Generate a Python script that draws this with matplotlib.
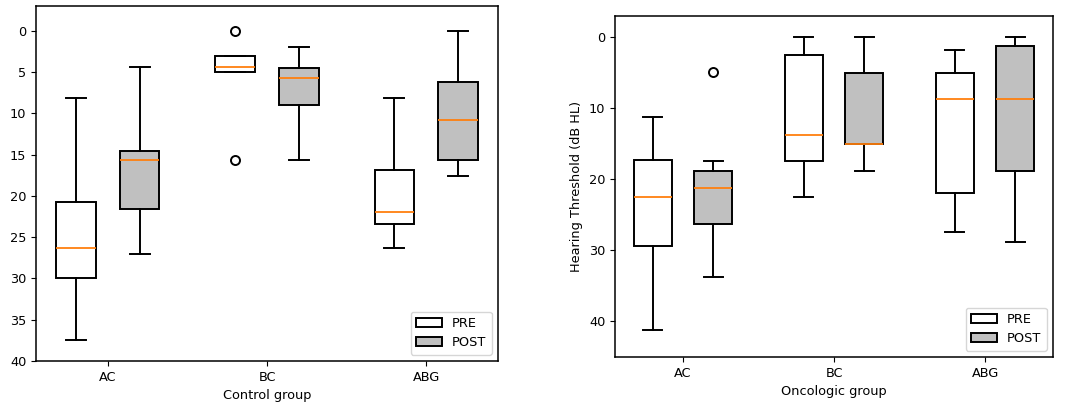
import matplotlib
matplotlib.use("Agg")
import matplotlib.pyplot as plt
from matplotlib.patches import Patch

plt.rcParams['font.family'] = ['DejaVu Sans']
plt.rcParams['font.size'] = 9.3
plt.rcParams['axes.linewidth'] = 1.1

categories = ["AC", "BC", "ABG"]

# Control group: (whislo, q1, med, q3, whishi, fliers)
control_pre = [
    (8.2, 20.7, 26.3, 30.0, 37.5, []),
    (3.1, 3.1, 4.4, 5.0, 5.0, [0.0, 15.6]),
    (8.2, 16.9, 21.9, 23.45, 26.3, []),
]
control_post = [
    (4.4, 14.55, 15.6, 21.6, 27.0, []),
    (2.0, 4.55, 5.7, 9.0, 15.6, []),
    (0.0, 6.15, 10.85, 15.7, 17.55, []),
]
# Oncologic group
onco_pre = [
    (11.2, 17.2, 22.5, 29.4, 41.2, []),
    (0.0, 2.5, 13.75, 17.45, 22.5, []),
    (1.8, 5.0, 8.75, 21.85, 27.45, []),
]
onco_post = [
    (17.45, 18.75, 21.25, 26.25, 33.7, [4.95]),
    (0.0, 5.0, 14.95, 14.95, 18.75, []),
    (0.0, 1.25, 8.75, 18.75, 28.75, []),
]

series_labels = ["PRE", "POST"]
post_color = "#c0c0c0"
lw = 1.4


def to_stats(rows):
    out = []
    for lo, q1, med, q3, hi, fl in rows:
        out.append(dict(whislo=lo, q1=q1, med=med, q3=q3, whishi=hi, fliers=fl))
    return out


def draw(ax, pre, post, xlabel, ylim):
    pos = [1, 2, 3]
    common = dict(widths=0.25, patch_artist=True, showfliers=True,
                  medianprops=dict(color="#ff7f0e", linewidth=1.3),
                  whiskerprops=dict(color="black", linewidth=lw),
                  capprops=dict(color="black", linewidth=lw),
                  flierprops=dict(marker="o", markerfacecolor="white",
                                  markeredgecolor="black", markersize=6.5,
                                  markeredgewidth=1.4))
    ax.bxp(to_stats(pre), positions=[p - 0.2 for p in pos],
           boxprops=dict(facecolor="white", edgecolor="black", linewidth=lw), **common)
    ax.bxp(to_stats(post), positions=[p + 0.2 for p in pos],
           boxprops=dict(facecolor=post_color, edgecolor="black", linewidth=lw), **common)
    ax.set_xticks(pos)
    ax.set_xticklabels(categories)
    ax.set_xlim(0.55, 3.45)
    ax.set_ylim(*ylim)
    ax.set_xlabel(xlabel)
    handles = [Patch(facecolor="white", edgecolor="black", linewidth=lw, label=series_labels[0]),
               Patch(facecolor=post_color, edgecolor="black", linewidth=lw, label=series_labels[1])]
    ax.legend(handles=handles, loc="lower right", fontsize=9.3)


fig = plt.figure(figsize=(10.84, 4.13), dpi=100)
ax1 = fig.add_axes([36 / 1084, 1 - 361 / 413, 462 / 1084, 355 / 413])
ax2 = fig.add_axes([615 / 1084, 1 - 357 / 413, 438 / 1084, 341 / 413])

draw(ax1, control_pre, control_post, "Control group", (40, -3))
draw(ax2, onco_pre, onco_post, "Oncologic group", (45, -3))
ax1.set_yticks([0, 5, 10, 15, 20, 25, 30, 35, 40])
ax2.set_yticks([0, 10, 20, 30, 40])
ax2.set_ylabel("Hearing Threshold (dB HL)")

fig.savefig("out.png", dpi=100)
